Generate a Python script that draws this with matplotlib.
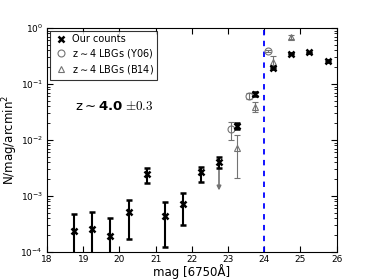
import matplotlib
matplotlib.use("Agg")
import matplotlib.pyplot as plt
from matplotlib.lines import Line2D
import numpy as np

# Our counts
mag_ours = [18.75, 19.25, 19.75, 20.25, 20.75, 21.25, 21.75, 22.25, 22.75, 23.25, 23.75, 24.25, 24.75, 25.25, 25.75]
n_ours = [2.4e-4, 2.6e-4, 1.95e-4, 5.1e-4, 2.5e-3, 4.45e-4, 7.2e-4, 2.65e-3, 4.0e-3, 0.0178, 0.066, 0.195, 0.35, 0.37, 0.26]
n_ours_lo = [1e-5, 1e-5, 1e-5, 1.7e-4, 1.73e-3, 1.23e-4, 3.0e-4, 1.8e-3, 3.1e-3, 0.0160, 0.060, 0.185, 0.34, 0.36, 0.25]
n_ours_hi = [4.8e-4, 5.1e-4, 4.1e-4, 8.5e-4, 3.2e-3, 7.7e-4, 1.13e-3, 3.3e-3, 5.0e-3, 0.0198, 0.072, 0.205, 0.36, 0.38, 0.27]
# upper-limit arrow at 22.75
mag_lim = [22.75]
n_lim_top = [4.0e-3]
n_lim_bot = [1.12e-3]

# Y06 LBGs
mag_y06 = [23.08, 23.57, 24.1]
n_y06 = [0.016, 0.062, 0.39]
n_y06_lo = [0.0098, 0.054, 0.37]
n_y06_hi = [0.021, 0.070, 0.41]

# B14 LBGs
mag_b14 = [23.25, 23.75, 24.25, 24.75]
n_b14 = [0.0071, 0.039, 0.25, 0.68]
n_b14_lo = [0.0021, 0.031, 0.22, 0.63]
n_b14_hi = [0.0123, 0.048, 0.31, 0.74]

mag_limit = 24.0

fig = plt.figure(figsize=(3.74, 2.8), dpi=100)
ax = fig.add_axes([0.126, 0.1, 0.774, 0.8])

def yerr(v, lo, hi):
    v = np.array(v); lo = np.array(lo); hi = np.array(hi)
    return [v - lo, hi - v]

gray = '0.45'
ax.errorbar(mag_y06, n_y06, yerr=yerr(n_y06, n_y06_lo, n_y06_hi), fmt='o', mfc='none',
            mec=gray, ecolor=gray, ms=5, mew=0.8, elinewidth=0.8, capsize=2.5, zorder=2)
ax.errorbar(mag_b14, n_b14, yerr=yerr(n_b14, n_b14_lo, n_b14_hi), fmt='^', mfc='none',
            mec=gray, ecolor=gray, ms=5, mew=0.8, elinewidth=0.8, capsize=2.5, zorder=2)
for m, t, b in zip(mag_lim, n_lim_top, n_lim_bot):
    ax.annotate('', xy=(m, b), xytext=(m, t),
                arrowprops=dict(arrowstyle='-|>', color=gray, lw=1.2, mutation_scale=6))
ax.errorbar(mag_ours, n_ours, yerr=yerr(n_ours, n_ours_lo, n_ours_hi), fmt='x', color='black',
            ms=4.5, mew=1.8, elinewidth=1.5, capsize=2.5, capthick=1.5, zorder=3)

ax.axvline(mag_limit, color='blue', ls='--', lw=1.3, dashes=(3, 3))

ax.set_yscale('log')
ax.set_xlim(18, 26)
ax.set_ylim(1e-4, 1)
ax.set_xticks(range(18, 27))
ax.tick_params(which='both', direction='in', top=True, right=True, labelsize=6.5, pad=2)
ax.tick_params(axis='y', which='both', pad=3)
ax.tick_params(which='major', length=4)
ax.tick_params(which='minor', length=2)
ax.set_xlabel('mag [6750Å]', fontsize=8.5)
ax.set_ylabel(r'N/mag/arcmin$^2$', fontsize=8.5)
ax.xaxis.set_label_coords(0.5, -0.052)
ax.xaxis.label.set_va('top')
ax.yaxis.set_label_coords(-0.095, 0.5)

handles = [Line2D([], [], ls='none', marker='x', color='black', ms=4.5, mew=1.8),
           Line2D([], [], ls='none', marker='o', mfc='none', mec=gray, ms=5, mew=0.8),
           Line2D([], [], ls='none', marker='^', mfc='none', mec=gray, ms=5, mew=0.8)]
labels = ['Our counts', r'z$\sim$4 LBGs (Y06)', r'z$\sim$4 LBGs (B14)']
leg = ax.legend(handles, labels, loc='upper left',
                fontsize=7, frameon=True, fancybox=False, edgecolor='black',
                borderaxespad=0.3, handletextpad=0.3, numpoints=1, handlelength=1.6,
                labelspacing=0.3, borderpad=0.35)
leg.get_frame().set_linewidth(0.8)

t1 = ax.text(0.097, 0.65, r'z$\sim$$\mathbf{4.0}$', transform=ax.transAxes,
             fontsize=9.5, va='center', ha='left')
ax.annotate(r'$\pm0.3$', xy=(1, 0.5), xycoords=t1, xytext=(1, 0), textcoords='offset points',
            fontsize=9.5, va='center', ha='left', math_fontfamily='cm')

fig.savefig('out.png', dpi=100)
